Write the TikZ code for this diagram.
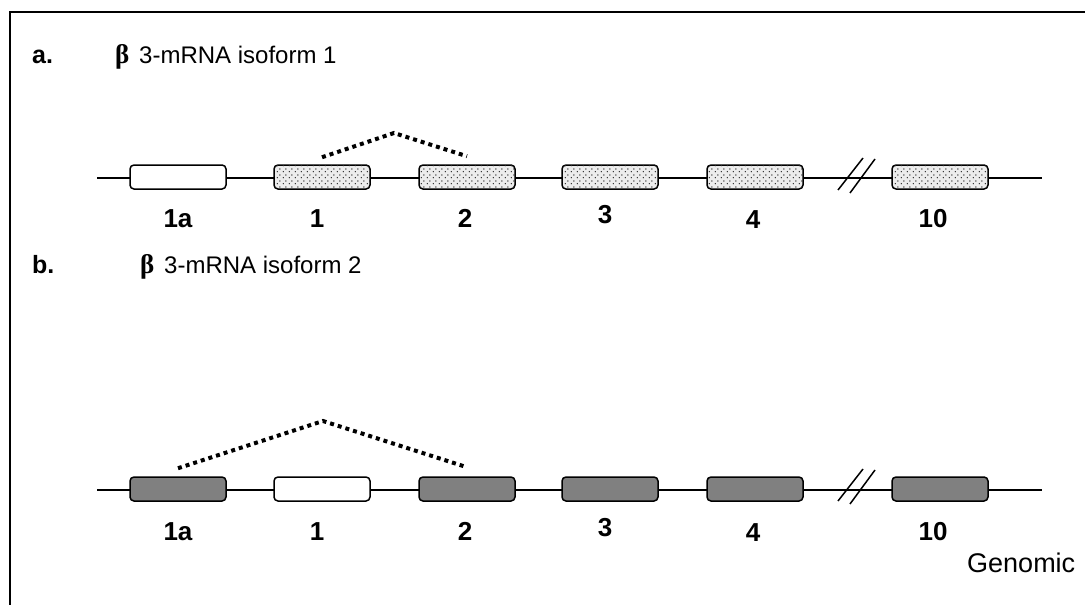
\documentclass[tikz,border=0pt]{standalone}
\usepackage{fontspec}
\setmainfont{Liberation Sans}
\newfontfamily\serifbeta{Liberation Serif}
\usetikzlibrary{patterns.meta,calc}
\definecolor{exongray}{RGB}{128,128,128}
\definecolor{stipfill}{RGB}{236,236,236}
\tikzdeclarepattern{name=stippled,type=uncolored,
  bounding box={(0,0) and (6pt,6pt)},tile size={(6pt,6pt)},
  code={\fill (1.5pt,1.5pt) circle (0.8pt); \fill (4.5pt,4.5pt) circle (0.8pt);}}
\tikzset{
  exon/.style={draw=black,line width=1.5pt,rectangle,rounded corners=4pt,minimum width=96pt,minimum height=24pt,inner sep=0pt},
  plain/.style={exon,fill=white},
  stip/.style={exon,fill=stipfill,postaction={pattern=stippled,pattern color=black!85}},
  dark/.style={exon,fill=exongray},
  genline/.style={line width=1.8pt},
  splice/.style={line width=4pt,dash pattern=on 4pt off 4pt},
  brk/.style={line width=1.5pt},
  lab/.style={font=\bfseries\fontsize{26}{30}\selectfont,anchor=base,inner sep=0pt},
  ttl/.style={font=\fontsize{24}{28}\selectfont,anchor=base west,inner sep=0pt},
  ttlbold/.style={ttl,font=\bfseries\fontsize{25}{29}\selectfont},
  beta/.style={ttl,font=\serifbeta\bfseries\fontsize{27}{31}\selectfont},
}
\begin{document}
\begin{tikzpicture}[x=1pt,y=-1pt]
\useasboundingbox (0,0) rectangle (1085,605);
% frame
\draw[line width=1.5pt] (1086,12) -- (10,12) -- (10,606);
% ---------- row a ----------
\node[ttlbold] (ta) at (32,63) {a.};
\node[beta] (ba) at (115,63) {β};
\node[ttl] (sa) at (139,63) {3-mRNA isoform 1};
\coordinate (as) at (97,178);
\coordinate (ae) at (1042,178);
\draw[genline] (as) -- (ae);
\node[plain] (a1a) at (178,177) {};
\node[stip] (a1) at (322,177) {};
\node[stip] (a2) at (467,177) {};
\node[stip] (a3) at (610,177) {};
\node[stip] (a4) at (755,177) {};
\node[stip] (a10) at (940,177) {};
\draw[brk] (838,190) -- (863,158);
\draw[brk] (850,193) -- (875,159);
\coordinate (apa) at (394,133);
\draw[splice] ([yshift=7pt]a1.north) -- (apa) -- ([yshift=8pt]a2.north);
\node[lab] (la1a) at (178,227) {1a};
\node[lab] (la1) at (317,227) {1};
\node[lab] (la2) at (465,227) {2};
\node[lab] (la3) at (605,223) {3};
\node[lab] (la4) at (753,228) {4};
\node[lab] (la10) at (933,227) {10};
% ---------- row b ----------
\node[ttlbold] (tb) at (32,273) {b.};
\node[beta] (bb) at (140,273) {β};
\node[ttl] (sb) at (164,273) {3-mRNA isoform 2};
\coordinate (bs) at (97,490);
\coordinate (be) at (1042,490);
\draw[genline] (bs) -- (be);
\node[dark] (b1a) at (178,489) {};
\node[plain] (b1) at (322,489) {};
\node[dark] (b2) at (467,489) {};
\node[dark] (b3) at (610,489) {};
\node[dark] (b4) at (755,489) {};
\node[dark] (b10) at (940,489) {};
\draw[brk] (838,501) -- (863,469);
\draw[brk] (850,504) -- (875,470);
\coordinate (apb) at (323,421);
\draw[splice] ([yshift=8pt]b1a.north) -- (apb) -- ([yshift=9pt]b2.north);
\node[lab] (lb1a) at (178,540) {1a};
\node[lab] (lb1) at (317,540) {1};
\node[lab] (lb2) at (465,540) {2};
\node[lab] (lb3) at (605,536) {3};
\node[lab] (lb4) at (753,541) {4};
\node[lab] (lb10) at (933,540) {10};
\node[ttl,font=\fontsize{27}{32}\selectfont] (gen) at (967,572) {Genomic};
\end{tikzpicture}
\end{document}
